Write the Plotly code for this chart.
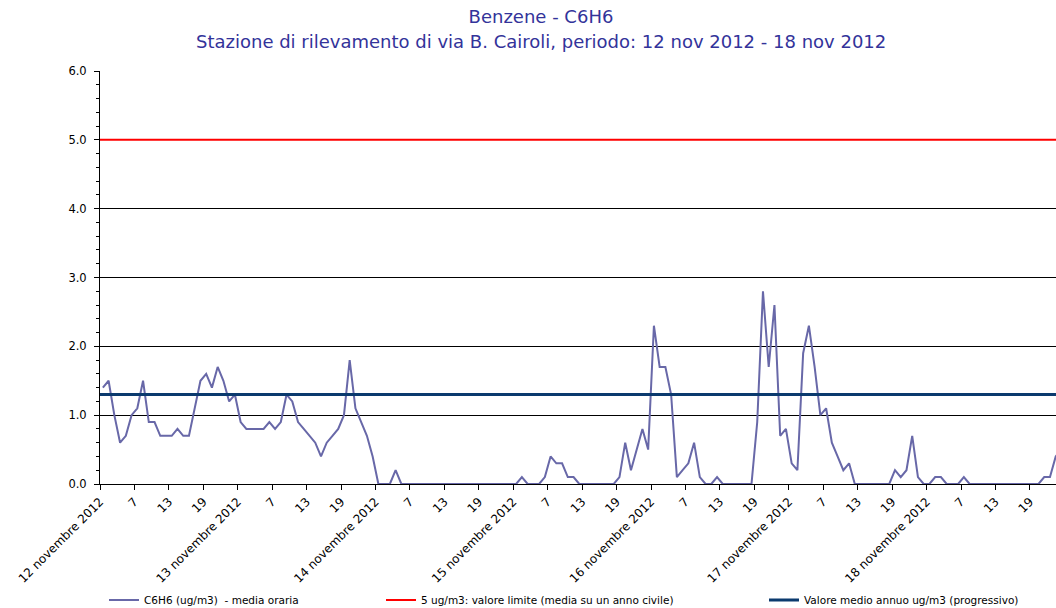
import plotly.graph_objects as go

# ---- data -------------------------------------------------------------
dates = ["12 novembre 2012", "13 novembre 2012", "14 novembre 2012",
         "15 novembre 2012", "16 novembre 2012", "17 novembre 2012",
         "18 novembre 2012"]
hour_labels = ["7", "13", "19"]

day12 = [1.4, 1.5, 1.0, 0.6, 0.7, 1.0, 1.1, 1.5, 0.9, 0.9, 0.7, 0.7,
         0.7, 0.8, 0.7, 0.7, 1.1, 1.5, 1.6, 1.4, 1.7, 1.5, 1.2, 1.3]
day13 = [0.9, 0.8, 0.8, 0.8, 0.8, 0.9, 0.8, 0.9, 1.3, 1.2, 0.9, 0.8,
         0.7, 0.6, 0.4, 0.6, 0.7, 0.8, 1.0, 1.8, 1.1, 0.9, 0.7, 0.4]
day14 = [0.0, 0.0, 0.0, 0.2, 0.0, 0.0, 0.0, 0.0, 0.0, 0.0, 0.0, 0.0,
         0.0, 0.0, 0.0, 0.0, 0.0, 0.0, 0.0, 0.0, 0.0, 0.0, 0.0, 0.0]
day15 = [0.0, 0.1, 0.0, 0.0, 0.0, 0.1, 0.4, 0.3, 0.3, 0.1, 0.1, 0.0,
         0.0, 0.0, 0.0, 0.0, 0.0, 0.0, 0.1, 0.6, 0.2, 0.5, 0.8, 0.5]
day16 = [2.3, 1.7, 1.7, 1.3, 0.1, 0.2, 0.3, 0.6, 0.1, 0.0, 0.0, 0.1,
         0.0, 0.0, 0.0, 0.0, 0.0, 0.0, 0.9, 2.8, 1.7, 2.6, 0.7, 0.8]
day17 = [0.3, 0.2, 1.9, 2.3, 1.7, 1.0, 1.1, 0.6, 0.4, 0.2, 0.3, 0.0,
         0.0, 0.0, 0.0, 0.0, 0.0, 0.0, 0.2, 0.1, 0.2, 0.7, 0.1, 0.0]
day18 = [0.0, 0.1, 0.1, 0.0, 0.0, 0.0, 0.1, 0.0, 0.0, 0.0, 0.0, 0.0,
         0.0, 0.0, 0.0, 0.0, 0.0, 0.0, 0.0, 0.0, 0.1, 0.1, 0.4, 0.5]

limit_value = 5.0      # ug/m3 valore limite
annual_mean = 1.3      # valore medio annuo (progressivo)

# ---- build ------------------------------------------------------------
c6h6 = day12 + day13 + day14 + day15 + day16 + day17 + day18
hours = list(range(len(c6h6)))
span = [hours[0] - 0.5, hours[-1] + 0.5]

tickvals, ticktext = [], []
for d, date in enumerate(dates):
    base = d * 24
    tickvals.append(base - 0.5)
    ticktext.append(date)
    for h in hour_labels:
        tickvals.append(base + int(h) - 1 - 0.5)
        ticktext.append(h)

FONT = "DejaVu Sans"
SERIES = "#6868A8"
NAVY = "#0B3A6E"
RED = "#FF0000"
TITLE = "#33339A"

fig = go.Figure()
fig.add_trace(go.Scatter(
    x=hours, y=c6h6, mode="lines",
    line=dict(color=SERIES, width=2),
    name="C6H6 (ug/m3) \u00a0- media oraria", legend="legend"))
fig.add_trace(go.Scatter(
    x=span, y=[limit_value] * 2, mode="lines",
    line=dict(color=RED, width=2),
    name="5 ug/m3: valore limite (media su un anno civile)", legend="legend2"))
fig.add_trace(go.Scatter(
    x=span, y=[annual_mean] * 2, mode="lines",
    line=dict(color=NAVY, width=3),
    name="Valore medio annuo ug/m3 (progressivo)", legend="legend3"))

leg_common = dict(orientation="h", xref="container", yref="container",
                  y=1 - 600 / 608, yanchor="middle", xanchor="left",
                  font=dict(family=FONT, size=10.5, color="black"),
                  bgcolor="rgba(0,0,0,0)", itemwidth=30)

fig.update_layout(
    width=1056, height=608,
    margin=dict(l=100, r=0, t=71, b=124, autoexpand=False),
    paper_bgcolor="white", plot_bgcolor="white",
    font=dict(family=FONT, size=11, color="black"),
    title=dict(text="Benzene - C6H6", x=541 / 1056, xanchor="center",
               xref="container", yref="container", y=1 - 17 / 608,
               yanchor="middle", font=dict(family=FONT, size=18, color=TITLE)),
    annotations=[dict(
        text="Stazione di rilevamento di via B. Cairoli, periodo: 12 nov 2012 - 18 nov 2012",
        xref="paper", yref="paper", x=(541 - 100) / 956, y=1 + (71 - 42) / 413,
        xanchor="center", yanchor="middle", showarrow=False,
        font=dict(family=FONT, size=18, color=TITLE))],
    showlegend=True,
    legend=dict(x=104 / 1056, **leg_common),
    legend2=dict(x=381 / 1056, **leg_common),
    legend3=dict(x=764 / 1056, **leg_common),
)

fig.update_xaxes(
    range=[-0.5, (1056 - 100) / 5.74 - 0.5], automargin=False,
    tickmode="array", tickvals=tickvals, ticktext=ticktext,
    tickangle=-45, ticks="outside", ticklen=5, tickcolor="black",
    showgrid=False, zeroline=False,
    showline=True, linecolor="black", linewidth=1,
    tickfont=dict(family=FONT, size=12, color="black"))

fig.update_yaxes(
    range=[0, 6], dtick=1, tickformat=".1f", automargin=False,
    ticks="outside", ticklen=5, tickcolor="black", ticklabelstandoff=5,
    minor=dict(dtick=0.2, ticks="outside", ticklen=3, tickcolor="black", showgrid=False),
    showgrid=True, gridcolor="black", gridwidth=1,
    zeroline=False, showline=True, linecolor="black", linewidth=1,
    tickfont=dict(family=FONT, size=11.5, color="black"))

fig.write_html("out.html", config={"displayModeBar": False},
               post_script="document.body.style.margin='0';")
